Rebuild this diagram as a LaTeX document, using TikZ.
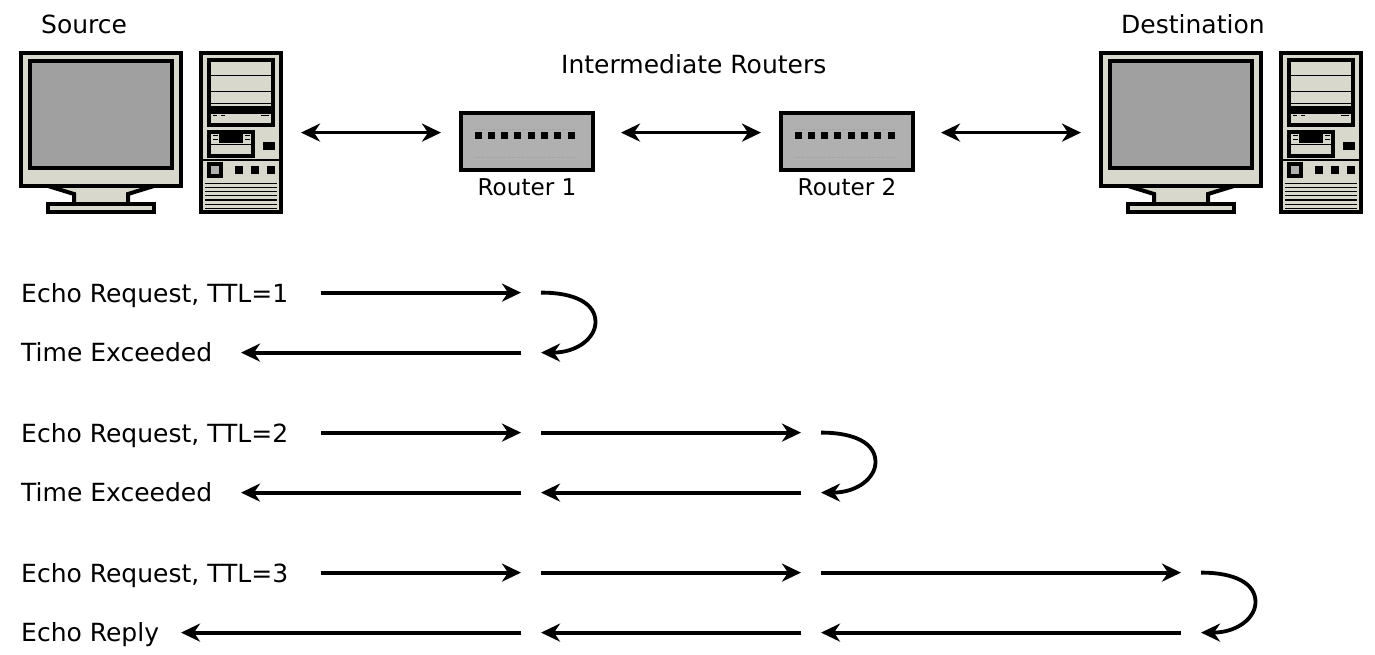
\documentclass[tikz,border=0pt]{standalone}
\usepackage{fontspec}
\setmainfont{DejaVu Sans}
\usetikzlibrary{arrows.meta}
\definecolor{casing}{HTML}{D8D8CC}
\definecolor{screen}{HTML}{A0A0A0}
\definecolor{routergray}{HTML}{B0B0B0}
\tikzset{
    lbl/.style={inner sep=0pt, anchor=base west, font=\fontsize{25}{30}\selectfont},
    routerlbl/.style={inner sep=0pt, anchor=base, font=\fontsize{23.1}{28}\selectfont},
    routerbox/.style={draw, line width=4pt, fill=routergray, minimum width=132pt, minimum height=57pt, inner sep=0pt},
    flow/.style={line width=3.8pt, -{Stealth[length=19pt,width=18pt,inset=6pt]}},
    link/.style={line width=3.8pt, {Stealth[length=19pt,width=18pt,inset=6pt]}-{Stealth[length=19pt,width=18pt,inset=6pt]}},
    computer/.pic={
        % monitor
        \draw[line width=4pt, fill=casing] (48,186) -- (74,194) -- (74,204) -- (128,204) -- (128,194) -- (154,186) -- cycle;
        \draw[line width=4pt, fill=casing] (48,204) rectangle (154,212);
        \draw[line width=4pt, fill=casing] (21,53) rectangle (181,186);
        \draw[line width=4pt, fill=screen] (30,61) rectangle (172,168);
        % tower
        \draw[line width=4pt, fill=casing] (201,53) rectangle (281,212);
        \fill (207,58) rectangle (275,127);
        \fill[casing] (211,62) rectangle (271,106);
        \fill[casing] (211,114) rectangle (271,123);
        \foreach \y in {76,92,104} \draw[line width=1pt] (211,\y) -- (271,\y);
        \draw[line width=1pt] (213,116) -- (217,116);
        \draw[line width=1pt] (221,116) -- (225,116);
        \draw[line width=1pt] (261,116) -- (269,116);
        \fill (207,130) rectangle (255,158);
        \fill[casing] (211,134) rectangle (251,154);
        \fill (219,134) rectangle (243,143);
        \draw[line width=1pt] (211,145) -- (251,145);
        \foreach \y in {136,140} {
            \draw[line width=1pt] (213,\y) -- (218,\y);
            \draw[line width=1pt] (245,\y) -- (250,\y);
        }
        \fill (263,142) rectangle (275,150);
        \draw[line width=1.3pt] (203,160) -- (279,160);
        \fill (207,162) rectangle (223,178);
        \fill[routergray] (211,166) rectangle (219,174);
        \foreach \x in {235,251,267} \fill (\x,166) rectangle +(8,8);
        \foreach \y in {184,188,192,196,200,204,208} \draw[line width=1pt] (205,\y) -- (277,\y);
    }
}
\begin{document}
\begin{tikzpicture}[x=1pt, y=-1pt]
    \useasboundingbox (0,0) rectangle (1375,655);
    \pic (srcpc) at (0,0) {computer};
    \pic (dstpc) at (1080,0) {computer};
    \node[lbl] (source) at (41,33.5) {Source};
    \node[lbl] (destination) at (1121,33.5) {Destination};
    \node[lbl] (intermediate) at (561,74) {Intermediate Routers};
    \node[routerbox] (router1) at (527,141.5) {};
    \node[routerbox] (router2) at (847,141.5) {};
    \node[routerlbl] (router1label) at (527,195.2) {Router 1};
    \node[routerlbl] (router2label) at (847,195.2) {Router 2};
    \foreach \o in {0,320} {
        \foreach \i in {0,...,7} \fill (474.5+\o+13.3*\i,132) rectangle +(7,7);
        \draw[routergray!90!black, dotted, line width=0.5pt] (474+\o,129) -- (575+\o,129);
        \draw[routergray!90!black, dotted, line width=0.5pt] (474+\o,157) -- (575+\o,157);
    }
    % links along the top
    \coordinate (l1) at (301,132.6);
    \coordinate (l2) at (441,132.6);
    \coordinate (l3) at (621,132.6);
    \coordinate (l4) at (761,132.6);
    \coordinate (l5) at (941,132.6);
    \coordinate (l6) at (1081,132.6);
    \draw[link] (l1) -- (l2);
    \draw[link] (l3) -- (l4);
    \draw[link] (l5) -- (l6);
    % row letter + column number
    \foreach \name/\y in {a/292.6,b/352.6,c/432.6,d/492.6,e/572.6,f/632.6} {
        \foreach \col/\x in {0/181,1/241,2/321,3/521,4/541,5/801,6/821,7/1181,8/1201}
            \coordinate (\name\col) at (\x,\y);
    }
    \node[lbl] (req1) at (21,302.3) {Echo Request, TTL=1};
    \node[lbl] (exc1) at (21,361.2) {Time Exceeded};
    \node[lbl] (req2) at (21,442.3) {Echo Request, TTL=2};
    \node[lbl] (exc2) at (21,501.2) {Time Exceeded};
    \node[lbl] (req3) at (21,582.3) {Echo Request, TTL=3};
    \node[lbl] (reply) at (21,641.2) {Echo Reply};
    \coordinate (m1) at (595.5,322);
    \coordinate (m2) at (875.5,462);
    \coordinate (m3) at (1255.5,602);
    % first probe
    \draw[flow] (a2) -- (a3);
    \draw[flow] (a4) .. controls +(35,0) and +(0,-18) .. (m1) .. controls +(0,16) and +(36,0) .. (b4);
    \draw[flow] (b3) -- (b1);
    % second probe
    \draw[flow] (c2) -- (c3);
    \draw[flow] (c4) -- (c5);
    \draw[flow] (c6) .. controls +(35,0) and +(0,-18) .. (m2) .. controls +(0,16) and +(36,0) .. (d6);
    \draw[flow] (d5) -- (d4);
    \draw[flow] (d3) -- (d1);
    % third probe
    \draw[flow] (e2) -- (e3);
    \draw[flow] (e4) -- (e5);
    \draw[flow] (e6) -- (e7);
    \draw[flow] (e8) .. controls +(35,0) and +(0,-18) .. (m3) .. controls +(0,16) and +(36,0) .. (f8);
    \draw[flow] (f7) -- (f6);
    \draw[flow] (f5) -- (f4);
    \draw[flow] (f3) -- (f0);
\end{tikzpicture}
\end{document}
